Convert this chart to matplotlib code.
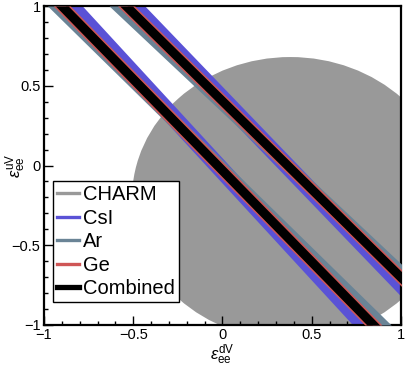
import numpy as np
import matplotlib
matplotlib.use('Agg')
import matplotlib.pyplot as plt
from matplotlib.patches import Ellipse
from matplotlib.lines import Line2D

# band edges: x of the left / right edge at y = +1 and y = -1
y_lev = [1.0, -1.0]

# lower branch
csi_lo = ([-0.915, 0.730], [-0.785, 0.860])
ar_lo = ([-0.980, 0.840], [-0.880, 0.945])
ge_lo = ([-0.948, 0.797], [-0.852, 0.893])
comb_lo = ([-0.936, 0.809], [-0.864, 0.881])

# upper branch
csi_up = ([-0.565, 1.155], [-0.435, 1.285])
ar_up = ([-0.635, 1.265], [-0.535, 1.365])
ge_up = ([-0.588, 1.222], [-0.492, 1.318])
comb_up = ([-0.576, 1.234], [-0.504, 1.306])

# CHARM allowed disc
charm_center = (0.38, -0.207)
charm_radius = 0.887

labels = ['CHARM', 'CsI', 'Ar', 'Ge', 'Combined']
colors = ['#999999', '#5a52d6', '#6a8496', '#cf5656', '#000000']

plt.rcdefaults()
plt.rc('font', family=['Liberation Sans', 'DejaVu Sans'], size=10.5)
plt.rc('mathtext', fontset='custom', rm='Liberation Sans', it='Liberation Sans:italic')

fig = plt.figure(figsize=(4.1, 3.67), dpi=100, facecolor='w')
ax = fig.add_axes([44 / 410, 1 - 325 / 367, 357 / 410, 319 / 367])
ax.set_xlim(-1, 1)
ax.set_ylim(-1, 1)

ax.add_patch(Ellipse(charm_center, 2 * charm_radius, 2 * charm_radius,
                     facecolor=colors[0], edgecolor='none', zorder=1))

bands = [(csi_lo, csi_up), (ar_lo, ar_up), (ge_lo, ge_up), (comb_lo, comb_up)]
for k, (lo, up) in enumerate(bands):
    for b in (lo, up):
        ax.fill_betweenx(y_lev, b[0], b[1], color=colors[k + 1], lw=0, zorder=2 + k)

# axes styling, ROOT like
for s in ax.spines.values():
    s.set_linewidth(1.6)
ax.set_xticks([-1, -0.5, 0, 0.5, 1])
ax.set_yticks([-1, -0.5, 0, 0.5, 1])
ax.set_xticklabels(['\u22121', '\u22120.5', '0', '0.5', '1'])
ax.set_yticklabels(['\u22121', '\u22120.5', '0', '0.5', '1'])
ax.set_xticks(np.arange(-1, 1.01, 0.1), minor=True)
ax.set_yticks(np.arange(-1, 1.01, 0.1), minor=True)
ax.tick_params(which='both', direction='in', top=False, right=False, width=1.0)
ax.tick_params(which='major', length=6.5, pad=2.5, labelsize=10.5)
ax.tick_params(which='minor', length=3.2)

ax.set_xlabel(r'$\varepsilon^{\mathrm{dV}}_{\mathrm{ee}}$', fontsize=12, labelpad=0)
ax.set_ylabel(r'$\varepsilon^{\mathrm{uV}}_{\mathrm{ee}}$', fontsize=12)
ax.yaxis.set_label_coords(-0.045, 0.5)

handles = [Line2D([], [], color=colors[0], lw=2.4),
           Line2D([], [], color=colors[1], lw=2.4),
           Line2D([], [], color=colors[2], lw=2.4),
           Line2D([], [], color=colors[3], lw=2.4),
           Line2D([], [], color=colors[4], lw=3.8)]
leg = ax.legend(handles, labels, loc='lower left', bbox_to_anchor=(0.025, 0.072),
                fontsize=14.5, frameon=True, fancybox=False, framealpha=1,
                edgecolor='k', borderpad=0.2, labelspacing=0.22, handlelength=1.1,
                handletextpad=0.2, borderaxespad=0)
leg.get_frame().set_linewidth(1.0)
leg.set_zorder(10)

fig.savefig('out.png', dpi=100)
